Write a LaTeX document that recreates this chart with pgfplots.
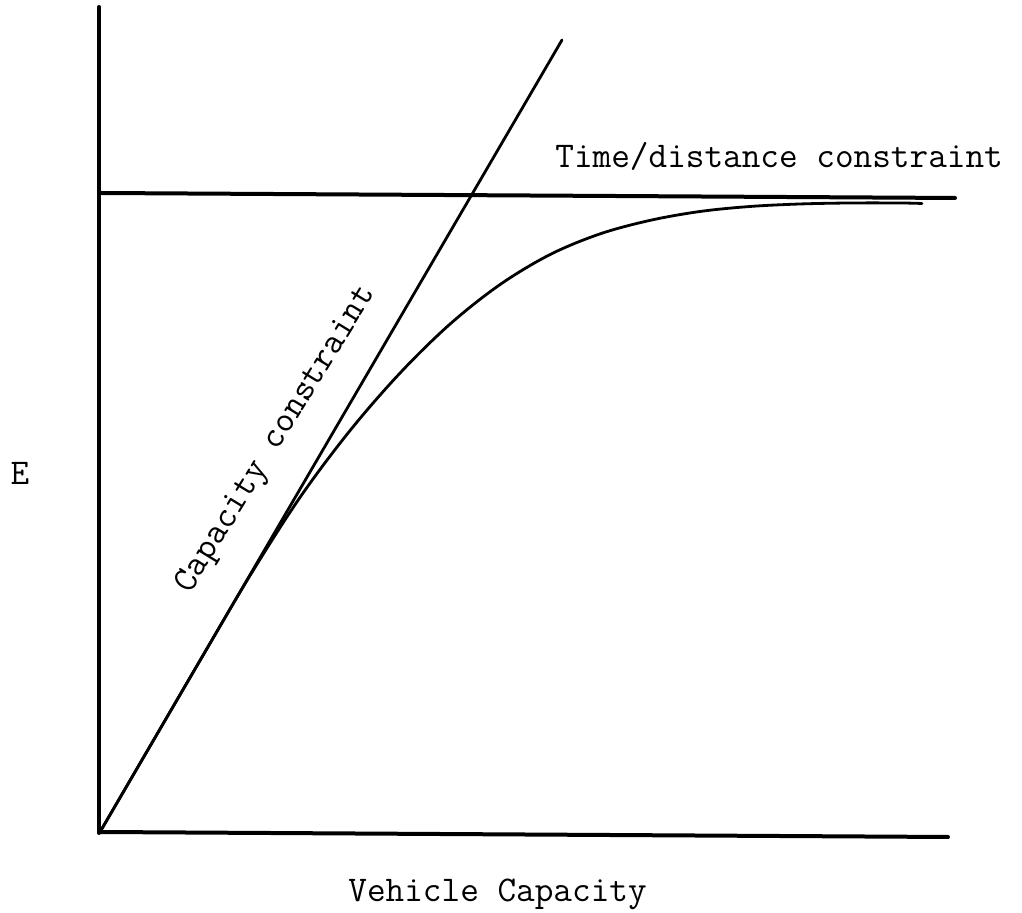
\documentclass[border=0pt]{standalone}
\usepackage{pgfplots}
\pgfplotsset{compat=1.18}
\usepackage{fontspec}
\begin{document}
\begin{tikzpicture}
\begin{axis}[
  width=511pt, height=456.5pt, scale only axis,
  xmin=0, xmax=1022, ymin=0, ymax=913,
  hide axis, clip=false,
]
% invisible frame for bounding box
\addplot[draw=none] coordinates {(0,0) (1022,913)};
% axes
\addplot[black, line width=2pt, line cap=round] coordinates {(99,906) (99,80)};
\addplot[black, line width=2pt, line cap=round] coordinates {(99,81) (948,76)};
% time/distance constraint
\addplot[black, line width=2pt, line cap=round] coordinates {(99,720) (955,715)};
% capacity constraint
\addplot[black, line width=1.4pt, line cap=round] coordinates {(100,81) (562,873)};
% curve
\addplot[black, line width=1.4pt, smooth, tension=0.55, line cap=round] coordinates {
(100,81) (150,166.8) (200,252.5) (250,337.4) (300,415.6) (350,482.4) (400,539.9)
(450,588.9) (500,628.4) (550,658.4) (600,679.1) (650,692.6) (700,701.5) (750,706.5)
(800,709) (850,710) (900,710) (922,709.5)};
\node[anchor=base west, inner sep=0pt, font=\ttfamily\fontsize{18.1}{21}\selectfont] at (axis cs:555,745) {Time/distance constraint};
\node[anchor=base west, inner sep=0pt, font=\ttfamily\fontsize{18.1}{21}\selectfont] at (axis cs:348,11) {Vehicle Capacity};
\node[anchor=base, inner sep=0pt, font=\ttfamily\fontsize{18.1}{21}\selectfont] at (axis cs:20,428) {E};
\node[anchor=base west, inner sep=0pt, rotate=58.5, font=\ttfamily\fontsize{18.1}{21}\selectfont] at (axis cs:190,318) {Capacity constraint};
\end{axis}
\end{tikzpicture}
\end{document}
